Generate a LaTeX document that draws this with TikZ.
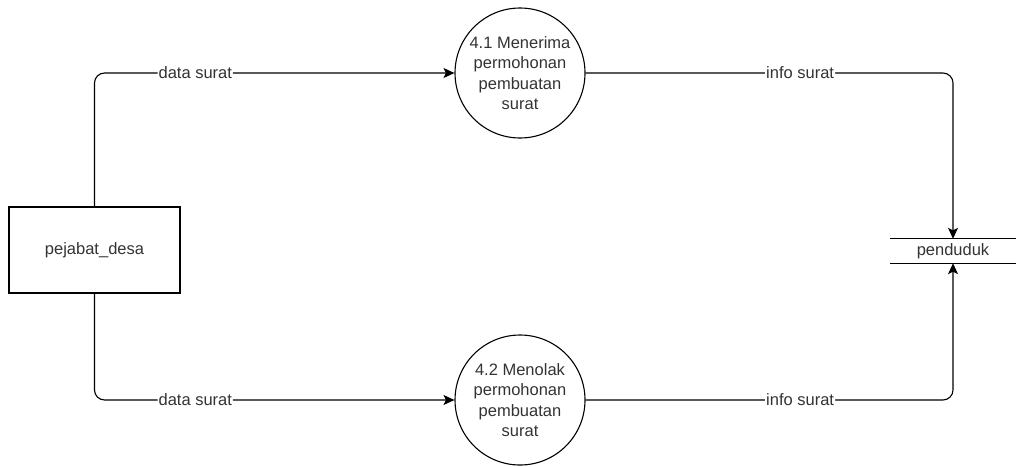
\documentclass[tikz,border=0pt]{standalone}
\usepackage{fontspec}
\setmainfont{Liberation Sans}
\usetikzlibrary{arrows.meta}
\definecolor{txt}{RGB}{51,51,51}
\begin{document}
\begin{tikzpicture}[x=1pt,y=-1pt,
  every node/.style={font=\fontsize{16.5}{20.5}\selectfont, text=txt},
  entity/.style={draw=black, line width=1.1pt, minimum width=171pt, minimum height=86pt, inner sep=0pt},
  proc/.style={draw=black, line width=1.1pt, circle, minimum size=130pt, inner sep=0pt, align=center},
  store/.style={minimum width=126pt, minimum height=24pt, inner sep=0pt},
  flow/.style={draw=black, line width=1.1pt, rounded corners=10pt, -{Stealth[length=11pt,width=10pt,inset=2.5pt]}},
  lbl/.style={fill=white, inner sep=1pt}]
\useasboundingbox (0,0) rectangle (1016,466);
\node[entity] (pd) at (94.5,250) {pejabat\_desa};
\node[proc] (c1) at (520,73) {4.1 Menerima\\permohonan\\pembuatan\\surat};
\node[proc] (c2) at (520,400) {4.2 Menolak\\permohonan\\pembuatan\\surat};
\node[store] (pen) at (953,251) {penduduk};
\draw[line width=1.1pt] (pen.north west) -- (pen.north east);
\draw[line width=1.1pt] (pen.south west) -- (pen.south east);
\draw[flow] (pd.north) |- (c1.west) node[lbl, pos=0.64] {data surat};
\draw[flow] (pd.south) |- (c2.west) node[lbl, pos=0.64] {data surat};
\draw[flow] (c1.east) -| (pen.north) node[lbl, pos=0.292] {info surat};
\draw[flow] (c2.east) -| (pen.south) node[lbl, pos=0.292] {info surat};
\end{tikzpicture}
\end{document}
